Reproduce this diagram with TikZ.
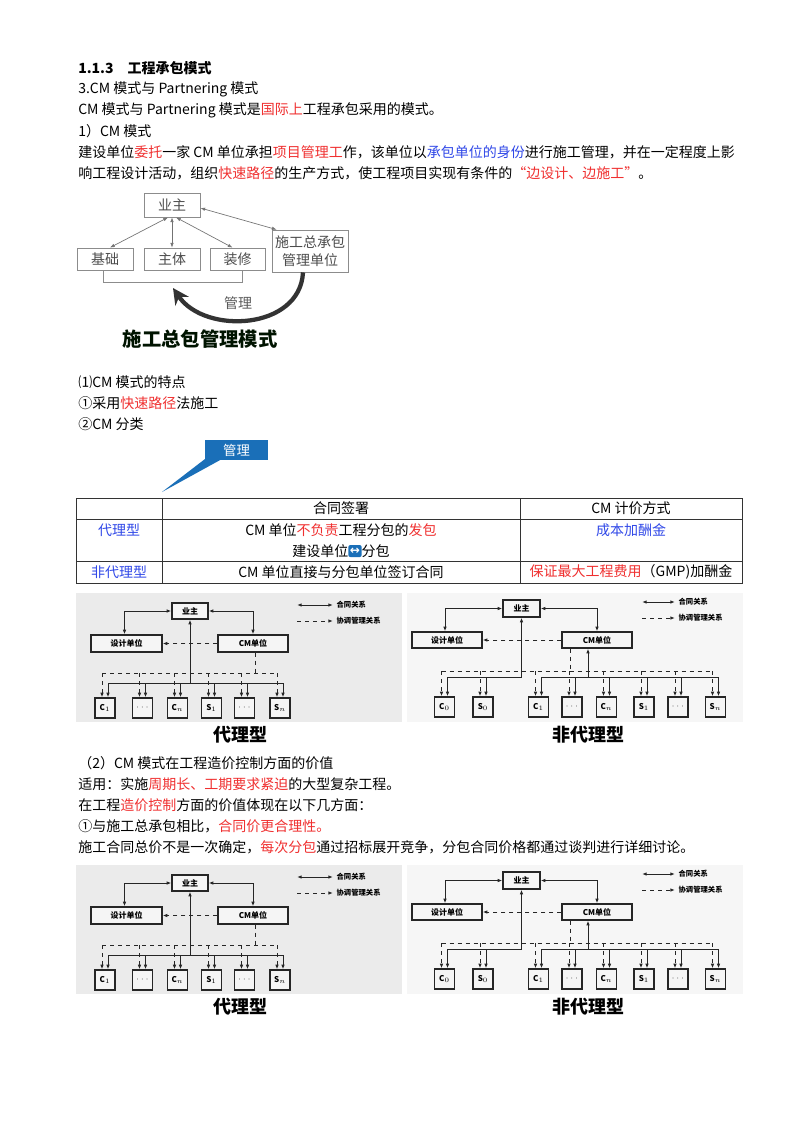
\documentclass[tikz,border=0pt]{standalone}
\usepackage{fontspec}
\setmainfont{Noto Sans CJK SC}
\usetikzlibrary{arrows.meta}
\newdimen\pxu \pxu=0.75pt
\definecolor{myred}{HTML}{F03030}
\definecolor{myblue}{HTML}{3048E8}
\definecolor{callblue}{HTML}{1A6FB8}
\newcommand\R[1]{\textcolor{myred}{#1}}
\newcommand\B[1]{\textcolor{myblue}{#1}}
\tikzset{
  txt/.style={anchor=west,inner sep=0,font=\fontsize{10.5}{12}\selectfont},
  sbox/.style={draw=black!45,line width=0.6pt,fill=white,inner sep=0,font=\fontsize{10.5}{12}\selectfont,text=black!70},
  cbox/.style={draw=black!85,line width=0.9pt,fill=white!92!gray,inner sep=0,font=\fontsize{6}{6}\selectfont\bfseries},
  leg/.style={anchor=west,inner sep=1pt,font=\fontsize{5.5}{6}\selectfont\bfseries},
  captext/.style={inner sep=0,font=\fontsize{13.5}{15}\selectfont\bfseries},
  >={Latex[length=3.5pt,width=2.6pt]},
  ln/.style={line width=0.7pt,black!85},
}
\newcommand\diagLeft{%
  \fill[gray!16] (76,593) rectangle (402,722);
  \node[cbox,minimum width=36\pxu,minimum height=16\pxu] (yz) at (190,611) {业主};
  \node[cbox,minimum width=71\pxu,minimum height=17\pxu] (sj) at (126.5,643.5) {设计单位};
  \node[cbox,minimum width=70\pxu,minimum height=17\pxu] (cm) at (253,643.5) {CM单位};
  \foreach \n/\x/\t in {c1/105/{C$_1$},d1/142.5/{$\cdots$},cn/177.5/{C$_n$},s1/211.5/{S$_1$},d2/244.5/{$\cdots$},sn/280/{S$_n$}}
    \node[cbox,minimum width=20\pxu,minimum height=20\pxu] (\n) at (\x,708) {\t};
  \coordinate (sb) at (190,683);
  \coordinate (db) at (190,673);
  \draw[ln,<->] (yz.west) -| ([xshift=-2\pxu]sj.north);
  \draw[ln,<->] (yz.east) -| (cm.north);
  \draw[ln,dashed,->] (cm.west) -- (sj.east);
  \draw[ln,<-] (yz.south) -- (sb);
  \draw[ln] ([xshift=3\pxu]c1.north |- sb) -- ([xshift=3\pxu]sn.north |- sb);
  \draw[ln,dashed] ([xshift=-3\pxu]c1.north |- db) -- ([xshift=-3\pxu]sn.north |- db);
  \draw[ln,dashed] ([xshift=2\pxu]cm.south) -- ([xshift=2\pxu]cm.south |- db);
  \foreach \b in {c1,d1,cn,s1,d2,sn}{
    \draw[ln,->] ([xshift=3\pxu]\b.north |- sb) -- ([xshift=3\pxu]\b.north);
    \draw[ln,dashed,->] ([xshift=-3\pxu]\b.north |- db) -- ([xshift=-3\pxu]\b.north);}
  \coordinate (la1) at (297,605); \coordinate (la2) at (333,605);
  \coordinate (lb1) at (297,621); \coordinate (lb2) at (333,621);
  \draw[ln,<->] (la1) -- (la2); \node[leg] (lt1) at ([xshift=2\pxu]la2) {合同关系};
  \draw[ln,dashed,->] (lb1) -- (lb2); \node[leg] (lt2) at ([xshift=2\pxu]lb2) {协调管理关系};
}
\newcommand\diagRight{%
  \fill[gray!7] (407,593) rectangle (743,722);
  \node[cbox,minimum width=37\pxu,minimum height=17\pxu] (yz) at (521.5,608.5) {业主};
  \node[cbox,minimum width=70\pxu,minimum height=16\pxu] (sj) at (447,640) {设计单位};
  \node[cbox,minimum width=70\pxu,minimum height=16\pxu] (cm) at (597,640) {CM单位};
  \foreach \n/\x/\t in {c0/444.5/{C$_0$},s0/483/{S$_0$},c1/538.5/{C$_1$},d1/572/{$\cdots$},cn/606.5/{C$_n$},s1/644/{S$_1$},d2/678/{$\cdots$},sn/715.5/{S$_n$}}
    \node[cbox,minimum width=20\pxu,minimum height=20\pxu] (\n) at (\x,707) {\t};
  \coordinate (sb) at (520,677);
  \coordinate (db) at (520,671);
  \draw[ln,<->] (yz.west) -| ([xshift=-2\pxu]sj.north);
  \draw[ln,<->] (yz.east) -| (cm.north);
  \draw[ln,dashed,->] (cm.west) -- (sj.east);
  \draw[ln,<-] (yz.south) |- ([xshift=3\pxu]c0.north |- sb);
  \draw[ln,<-] ([xshift=-9\pxu]cm.south) -- ([xshift=-9\pxu]cm.south |- sb);
  \draw[ln] ([xshift=3\pxu]c1.north |- sb) -- ([xshift=3\pxu]sn.north |- sb);
  \draw[ln,dashed] ([xshift=-3\pxu]c0.north |- db) -- ([xshift=-3\pxu]sn.north |- db);
  \draw[ln,dashed] ([xshift=-27\pxu]cm.south) -- ([xshift=-27\pxu]cm.south |- db);
  \foreach \b in {c0,s0,c1,d1,cn,s1,d2,sn}{
    \draw[ln,->] ([xshift=3\pxu]\b.north |- sb) -- ([xshift=3\pxu]\b.north);
    \draw[ln,dashed,->] ([xshift=-3\pxu]\b.north |- db) -- ([xshift=-3\pxu]\b.north);}
  \coordinate (la1) at (642,602); \coordinate (la2) at (675,602);
  \coordinate (lb1) at (642,618); \coordinate (lb2) at (675,618);
  \draw[ln,<->] (la1) -- (la2); \node[leg] (lt1) at ([xshift=2\pxu]la2) {合同关系};
  \draw[ln,dashed,->] (lb1) -- (lb2); \node[leg] (lt2) at ([xshift=2\pxu]lb2) {协调管理关系};
}
\newcommand\dbarrow{\tikz[baseline=-0.7ex]\node[fill=callblue,rounded corners=1.5pt,inner sep=0.8pt,minimum width=10pt,minimum height=9pt,text=white,font=\fontspec{DejaVu Sans}\fontsize{9}{9}\selectfont\bfseries]{↔};}
\begin{document}
\begin{tikzpicture}[x=0.75pt,y=-0.75pt]
\useasboundingbox[fill=white] (0,0) rectangle (800,1132);
% header text
\node[txt,font=\fontsize{10.5}{12}\selectfont\bfseries] (h1) at (78,68) {1.1.3\quad 工程承包模式};
\node[txt] (h2) at (78,89) {3.CM 模式与 Partnering 模式};
\node[txt] (h3) at (78,110) {CM 模式与 Partnering 模式是\R{国际上}工程承包采用的模式。};
\node[txt] (h4) at (78,131) {1）CM 模式};
\node[txt] (h5) at (78,152) {建设单位\R{委托}一家 CM 单位承担\R{项目管理工}作，该单位以\B{承包单位的身份}进行施工管理，并在一定程度上影};
\node[txt] (h6) at (78,173) {响工程设计活动，组织\R{快速路径}的生产方式，使工程项目实现有条件的\R{“边设计、边施工”}。};
% diagram 1
\node[sbox,minimum width=56\pxu,minimum height=24\pxu] (yz0) at (172,205) {业主};
\node[sbox,minimum width=56\pxu,minimum height=22\pxu] (jc) at (105,259) {基础};
\node[sbox,minimum width=56\pxu,minimum height=22\pxu] (zt) at (172,259) {主体};
\node[sbox,minimum width=55\pxu,minimum height=22\pxu] (zx) at (237.5,259) {装修};
\node[sbox,minimum width=76\pxu,minimum height=42\pxu,align=center,font=\fontsize{10.5}{13}\selectfont] (sg) at (310,251) {施工总承包\\管理单位};
\draw[black!55,line width=0.5pt,<->] ([xshift=-4\pxu]yz0.south) -- ([xshift=5\pxu]jc.north);
\draw[black!55,line width=0.5pt,<->] (yz0.south) -- (zt.north);
\draw[black!55,line width=0.5pt,<->] ([xshift=4\pxu]yz0.south) -- ([xshift=-5\pxu]zx.north);
\draw[black!55,line width=0.5pt,<->] ([yshift=-3\pxu]yz0.east) -- ([xshift=5\pxu]sg.north west);
\draw[black!45,line width=0.5pt] ([xshift=-2\pxu]jc.south) -- ++(0,12) -| ([xshift=5\pxu]zx.south);
\draw[black!80,line width=3.2pt,-{Stealth[length=12pt,width=12pt]}] ([xshift=-7\pxu]sg.south) .. controls (300,330) and (205,335) .. (173,288);
\node[inner sep=0,font=\fontsize{10.5}{12}\selectfont,text=black!65] (gl) at (238,303) {管理};
\node[inner sep=0,font=\fontsize{14.5}{16}\selectfont\bfseries,text=black!80!green!40!black] (gt) at (200,339) {施工总包管理模式};
% text
\node[txt] (t1) at (78,382) {⑴CM 模式的特点};
\node[txt] (t2) at (78,403) {①采用\R{快速路径}法施工};
\node[txt] (t3) at (78,424) {②CM 分类};
% callout
\fill[callblue] (205,440) rectangle (268,460);
\fill[callblue] (205,459) -- (222,459) -- (162,492) -- cycle;
\node[inner sep=0,text=white,font=\fontsize{10}{12}\selectfont] (cl) at (236.5,450) {管理};
% table
\draw[black!80,line width=0.5pt] (76,498) rectangle (742,583);
\draw[black!80,line width=0.5pt] (76,519) -- (742,519) (76,561) -- (742,561) (162,498) -- (162,583) (520,498) -- (520,583);
\node[inner sep=0,font=\fontsize{10.5}{12}\selectfont] (th1) at (341,508.5) {合同签署};
\node[inner sep=0,font=\fontsize{10.5}{12}\selectfont] (th2) at (631,508.5) {CM 计价方式};
\node[inner sep=0,font=\fontsize{10.5}{12}\selectfont] (r1a) at (119,530) {\B{代理型}};
\node[inner sep=0,font=\fontsize{10.5}{12}\selectfont] (r1b) at (341,530) {CM 单位\R{不负责}工程分包的\R{发包}};
\node[inner sep=0,font=\fontsize{10.5}{12}\selectfont] (r1c) at (341,551) {建设单位\dbarrow 分包};
\node[inner sep=0,font=\fontsize{10.5}{12}\selectfont] (r1d) at (631,530) {\B{成本加酬金}};
\node[inner sep=0,font=\fontsize{10.5}{12}\selectfont] (r2a) at (119,572) {\B{非代理型}};
\node[inner sep=0,font=\fontsize{10.5}{12}\selectfont] (r2b) at (341,572) {CM 单位直接与分包单位签订合同};
\node[inner sep=0,font=\fontsize{10.5}{12}\selectfont] (r2c) at (631,572) {\R{保证最大工程费用}（GMP)加酬金};
% diagrams
\begin{scope}[name prefix=a-]\diagLeft\end{scope}
\begin{scope}[name prefix=b-]\diagRight\end{scope}
\node[captext] (ca1) at (240,735) {代理型};
\node[captext] (ca2) at (588,735) {非代理型};
% text 2
\node[txt] (u1) at (78,763) {（2）CM 模式在工程造价控制方面的价值};
\node[txt] (u2) at (78,784) {适用：实施\R{周期长、工期要求紧迫}的大型复杂工程。};
\node[txt] (u3) at (78,805) {在工程\R{造价控制}方面的价值体现在以下几方面：};
\node[txt] (u4) at (78,826) {①与施工总承包相比，\R{合同价更合理性。}};
\node[txt] (u5) at (78,847) {施工合同总价不是一次确定，\R{每次分包}通过招标展开竞争，分包合同价格都通过谈判进行详细讨论。};
\begin{scope}[shift={(0,272)},name prefix=c-]\diagLeft\end{scope}
\begin{scope}[shift={(0,272)},name prefix=d-]\diagRight\end{scope}
\node[captext] (cb1) at (240,1007) {代理型};
\node[captext] (cb2) at (588,1007) {非代理型};
\end{tikzpicture}
\end{document}
